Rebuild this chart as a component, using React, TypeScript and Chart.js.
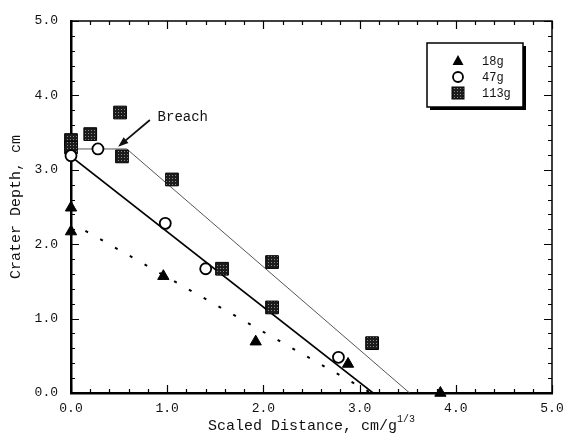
import React, { useEffect, useRef } from 'react';
import { Chart, registerables } from 'chart.js';

Chart.register(...registerables);

const FONT = '"Liberation Mono", "DejaVu Sans Mono", monospace';

// Series names
const seriesNames = ['18g', '47g', '113g'];

// 18 g charge (triangles)
const x18 = [0, 0, 0.96, 1.92, 2.88, 3.84];
const y18 = [2.49, 2.17, 1.57, 0.69, 0.39, 0.0];

// 47 g charge (open circles)
const x47 = [0, 0.28, 0.98, 1.4, 2.78];
const y47 = [3.19, 3.28, 2.28, 1.67, 0.48];

// 113 g charge (squares)
const x113 = [0, 0, 0.2, 0.51, 0.53, 1.05, 1.57, 2.09, 2.09, 3.13];
const y113 = [3.4, 3.3, 3.48, 3.77, 3.18, 2.87, 1.67, 1.76, 1.15, 0.67];

// Fit lines
const fit18X = [0.15, 3.12];
const fit18Y = [2.18, 0];
const fit47X = [0, 3.14];
const fit47Y = [3.18, 0];
const fit113X = [0, 0.58, 3.52];
const fit113Y = [3.28, 3.28, 0];

// Axes
const axisMin = 0;
const axisMax = 5;
const xTitle = 'Scaled Distance, cm/g';
const xTitleSup = '1/3';
const yTitle = 'Crater Depth, cm';

// Annotation
const breachText = 'Breach';
const breachTextAt = [0.9, 3.7];
const breachArrowFrom = [0.82, 3.67];
const breachArrowTo = [0.49, 3.31];

const pts = (xs: number[], ys: number[]) => xs.map((x, i) => ({ x, y: ys[i] }));

export default function App() {
  const ref = useRef<HTMLCanvasElement | null>(null);

  useEffect(() => {
    const canvas = ref.current!;
    const ctx0 = canvas.getContext('2d')!;
    const pc = document.createElement('canvas');
    pc.width = 3;
    pc.height = 3;
    const pg = pc.getContext('2d')!;
    pg.fillStyle = '#1c1c1c';
    pg.fillRect(0, 0, 3, 3);
    pg.fillStyle = '#8c8c8c';
    pg.fillRect(1, 1, 1, 1);
    const pattern = ctx0.createPattern(pc, 'repeat')!;

    const frameTicks = {
      id: 'frameTicks',
      beforeDatasetsDraw(chart: any) {
        const { ctx, chartArea: a, scales } = chart;
        const xs = scales.x;
        const ys = scales.y;
        ctx.save();
        ctx.strokeStyle = '#000';
        ctx.lineWidth = 1.5;
        ctx.beginPath();
        ctx.moveTo(a.left, a.top);
        ctx.lineTo(a.right, a.top);
        ctx.lineTo(a.right, a.bottom);
        ctx.stroke();
        ctx.lineWidth = 1.2;
        for (let i = 0; i <= 25; i++) {
          const v = axisMin + i * 0.2;
          const len = i % 5 === 0 ? 8 : 4;
          const px = Math.round(xs.getPixelForValue(v)) + 0.5;
          const py = Math.round(ys.getPixelForValue(v)) + 0.5;
          ctx.beginPath();
          ctx.moveTo(px, a.bottom);
          ctx.lineTo(px, a.bottom - len);
          ctx.moveTo(px, a.top);
          ctx.lineTo(px, a.top + len);
          ctx.moveTo(a.left, py);
          ctx.lineTo(a.left + len, py);
          ctx.moveTo(a.right, py);
          ctx.lineTo(a.right - len, py);
          ctx.stroke();
        }
        ctx.restore();
      },
    };

    const overlay = {
      id: 'overlay',
      afterDatasetsDraw(chart: any) {
        const { ctx, chartArea: a, scales } = chart;
        const xs = scales.x;
        const ys = scales.y;
        ctx.save();
        // Breach annotation
        ctx.fillStyle = '#111';
        ctx.font = `14px ${FONT}`;
        ctx.textBaseline = 'middle';
        ctx.textAlign = 'left';
        ctx.fillText(breachText, xs.getPixelForValue(breachTextAt[0]), ys.getPixelForValue(breachTextAt[1]));
        const fx = xs.getPixelForValue(breachArrowFrom[0]);
        const fy = ys.getPixelForValue(breachArrowFrom[1]);
        const tx = xs.getPixelForValue(breachArrowTo[0]);
        const ty = ys.getPixelForValue(breachArrowTo[1]);
        const ang = Math.atan2(ty - fy, tx - fx);
        ctx.strokeStyle = '#111';
        ctx.lineWidth = 1.8;
        ctx.beginPath();
        ctx.moveTo(fx, fy);
        ctx.lineTo(tx - Math.cos(ang) * 6, ty - Math.sin(ang) * 6);
        ctx.stroke();
        ctx.beginPath();
        ctx.moveTo(tx, ty);
        ctx.lineTo(tx - Math.cos(ang - 0.35) * 11, ty - Math.sin(ang - 0.35) * 11);
        ctx.lineTo(tx - Math.cos(ang + 0.35) * 11, ty - Math.sin(ang + 0.35) * 11);
        ctx.closePath();
        ctx.fill();

        // Legend box
        const bl = a.right - 125;
        const bt = a.top + 22;
        const bw = 96;
        const bh = 64;
        ctx.fillStyle = '#000';
        ctx.fillRect(bl + 3, bt + 3, bw, bh);
        ctx.fillStyle = '#fff';
        ctx.fillRect(bl, bt, bw, bh);
        ctx.strokeStyle = '#000';
        ctx.lineWidth = 1.5;
        ctx.strokeRect(bl, bt, bw, bh);
        const mx = bl + 31;
        const tX = bl + 55;
        const rows = [bt + 18, bt + 34, bt + 50];
        // triangle
        ctx.fillStyle = '#000';
        ctx.beginPath();
        ctx.moveTo(mx, rows[0] - 6);
        ctx.lineTo(mx + 5.5, rows[0] + 4);
        ctx.lineTo(mx - 5.5, rows[0] + 4);
        ctx.closePath();
        ctx.fill();
        // circle
        ctx.fillStyle = '#fff';
        ctx.lineWidth = 1.8;
        ctx.beginPath();
        ctx.arc(mx, rows[1], 5, 0, Math.PI * 2);
        ctx.fill();
        ctx.stroke();
        // square
        ctx.fillStyle = pattern;
        ctx.fillRect(mx - 6, rows[2] - 6, 12, 12);
        ctx.lineWidth = 1;
        ctx.strokeRect(mx - 6, rows[2] - 6, 12, 12);
        ctx.fillStyle = '#111';
        ctx.font = `12px ${FONT}`;
        ctx.textBaseline = 'middle';
        seriesNames.forEach((n, i) => ctx.fillText(n, tX, rows[i] + 1));

        // x-axis title with superscript
        ctx.font = `15px ${FONT}`;
        const w1 = ctx.measureText(xTitle).width;
        ctx.font = `10px ${FONT}`;
        const w2 = ctx.measureText(xTitleSup).width;
        const cx = (a.left + a.right) / 2;
        const start = cx - (w1 + w2) / 2;
        ctx.textBaseline = 'alphabetic';
        ctx.font = `15px ${FONT}`;
        ctx.fillText(xTitle, start, 430);
        ctx.font = `10px ${FONT}`;
        ctx.fillText(xTitleSup, start + w1, 422);
        ctx.restore();
      },
    };

    const chart = new Chart(canvas, {
      type: 'scatter',
      data: {
        datasets: [
          {
            label: seriesNames[0],
            data: pts(x18, y18),
            pointStyle: 'triangle',
            pointRadius: 6.5,
            backgroundColor: '#000',
            borderColor: '#000',
            borderWidth: 1,
            clip: false,
            order: 1,
          },
          {
            label: seriesNames[1],
            data: pts(x47, y47),
            pointStyle: 'circle',
            pointRadius: 5.5,
            backgroundColor: '#fff',
            borderColor: '#000',
            borderWidth: 1.8,
            clip: false,
            order: 0,
          },
          {
            label: seriesNames[2],
            data: pts(x113, y113),
            pointStyle: 'rect',
            pointRadius: 9,
            backgroundColor: pattern,
            borderColor: '#000',
            borderWidth: 1,
            clip: false,
            order: 2,
          },
          {
            label: 'fit18',
            data: pts(fit18X, fit18Y),
            showLine: true,
            pointRadius: 0,
            borderColor: '#000',
            borderWidth: 2,
            borderDash: [3, 14],
            order: 10,
          },
          {
            label: 'fit47',
            data: pts(fit47X, fit47Y),
            showLine: true,
            pointRadius: 0,
            borderColor: '#000',
            borderWidth: 1.6,
            order: 10,
          },
          {
            label: 'fit113',
            data: pts(fit113X, fit113Y),
            showLine: true,
            pointRadius: 0,
            borderColor: '#555',
            borderWidth: 1,
            order: 10,
          },
        ] as any,
      },
      options: {
        animation: false,
        responsive: true,
        maintainAspectRatio: false,
        layout: { padding: { top: 21, right: 13, left: 0, bottom: 0 } },
        plugins: { legend: { display: false }, tooltip: { enabled: false } },
        scales: {
          x: {
            type: 'linear',
            min: axisMin,
            max: axisMax,
            afterFit: (s: any) => {
              s.height = 51;
              s.paddingRight = 0;
              s.paddingLeft = 0;
            },
            grid: { display: false, drawTicks: false },
            border: { display: true, color: '#000', width: 2.5 },
            ticks: {
              stepSize: 1,
              padding: 8,
              color: '#111',
              font: { family: FONT, size: 13 },
              maxRotation: 0,
              callback: (v: any) => Number(v).toFixed(1),
            },
          },
          y: {
            type: 'linear',
            min: axisMin,
            max: axisMax,
            afterFit: (s: any) => {
              s.width = 71;
              s.paddingTop = 0;
              s.paddingBottom = 0;
            },
            grid: { display: false, drawTicks: false },
            border: { display: true, color: '#000', width: 2.5 },
            title: {
              display: true,
              text: yTitle,
              color: '#111',
              font: { family: FONT, size: 15 },
              padding: { top: 7, bottom: 0 },
            },
            ticks: {
              stepSize: 1,
              padding: 13,
              color: '#111',
              font: { family: FONT, size: 13 },
              callback: (v: any) => Number(v).toFixed(1),
            },
          },
        },
      },
      plugins: [frameTicks, overlay],
    });
    return () => chart.destroy();
  }, []);

  return (
    <div style={{ position: 'absolute', left: 0, top: 0, width: 565, height: 444, background: '#fff' }}>
      <canvas ref={ref} />
    </div>
  );
}
